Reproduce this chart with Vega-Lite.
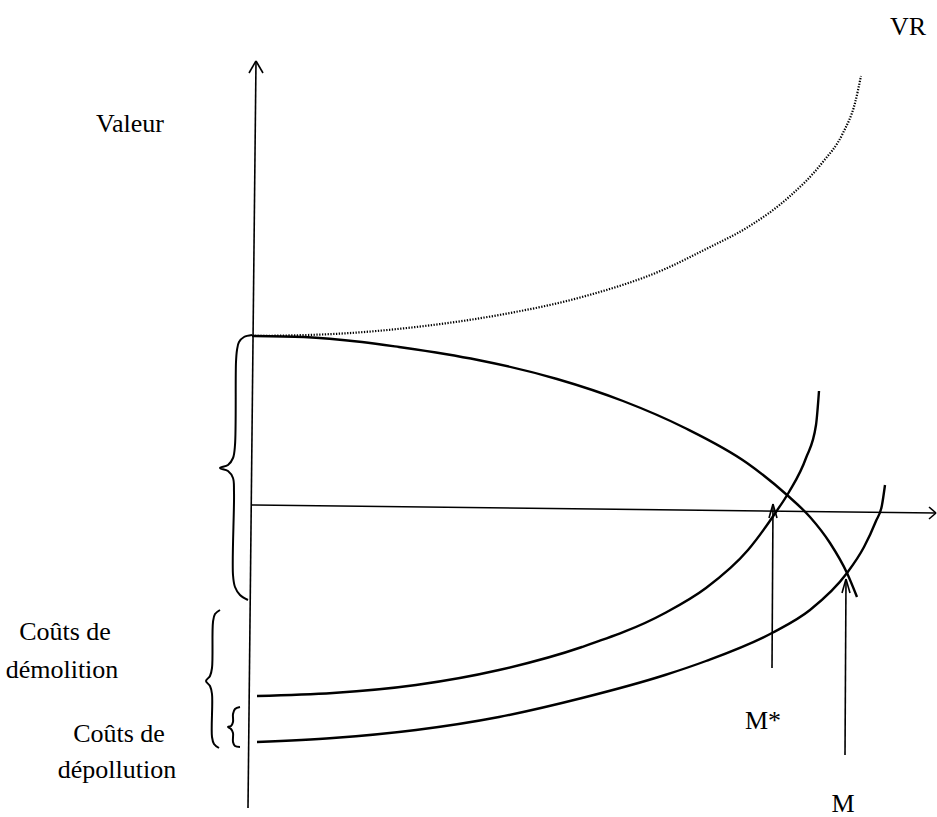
{
  "$schema": "https://vega.github.io/schema/vega-lite/v6.json",
  "width": 937,
  "height": 817,
  "autosize": {"type": "fit", "contains": "padding"},
  "padding": 0,
  "background": "white",
  "config": {"view": {"stroke": null}, "text": {"font": "'Liberation Serif', 'DejaVu Serif', serif"}},
  "datasets": {
    "curves": [
      {"series": "VR", "order": 0, "x": 252, "y": 336},
      {"series": "VR", "order": 1, "x": 333, "y": 334},
      {"series": "VR", "order": 2, "x": 416, "y": 327},
      {"series": "VR", "order": 3, "x": 499, "y": 315},
      {"series": "VR", "order": 4, "x": 582, "y": 297},
      {"series": "VR", "order": 5, "x": 665, "y": 269},
      {"series": "VR", "order": 6, "x": 706, "y": 249},
      {"series": "VR", "order": 7, "x": 748, "y": 227},
      {"series": "VR", "order": 8, "x": 789, "y": 197},
      {"series": "VR", "order": 9, "x": 822, "y": 163},
      {"series": "VR", "order": 10, "x": 843, "y": 133},
      {"series": "VR", "order": 11, "x": 855, "y": 103},
      {"series": "VR", "order": 12, "x": 861, "y": 76},

      {"series": "valeur", "order": 0, "x": 252, "y": 336},
      {"series": "valeur", "order": 1, "x": 304, "y": 337},
      {"series": "valeur", "order": 2, "x": 362, "y": 342},
      {"series": "valeur", "order": 3, "x": 399, "y": 347},
      {"series": "valeur", "order": 4, "x": 445, "y": 354},
      {"series": "valeur", "order": 5, "x": 478, "y": 360},
      {"series": "valeur", "order": 6, "x": 557, "y": 379},
      {"series": "valeur", "order": 7, "x": 623, "y": 401},
      {"series": "valeur", "order": 8, "x": 685, "y": 428},
      {"series": "valeur", "order": 9, "x": 747, "y": 463},
      {"series": "valeur", "order": 10, "x": 787, "y": 495},
      {"series": "valeur", "order": 11, "x": 810, "y": 517},
      {"series": "valeur", "order": 12, "x": 830, "y": 543},
      {"series": "valeur", "order": 13, "x": 847, "y": 573},
      {"series": "valeur", "order": 14, "x": 857, "y": 597},

      {"series": "demolition", "order": 0, "x": 257, "y": 696},
      {"series": "demolition", "order": 1, "x": 333, "y": 693},
      {"series": "demolition", "order": 2, "x": 416, "y": 685},
      {"series": "demolition", "order": 3, "x": 499, "y": 670},
      {"series": "demolition", "order": 4, "x": 582, "y": 647},
      {"series": "demolition", "order": 5, "x": 665, "y": 613},
      {"series": "demolition", "order": 6, "x": 706, "y": 588},
      {"series": "demolition", "order": 7, "x": 748, "y": 550},
      {"series": "demolition", "order": 8, "x": 776, "y": 512},
      {"series": "demolition", "order": 9, "x": 789, "y": 492},
      {"series": "demolition", "order": 10, "x": 806, "y": 458},
      {"series": "demolition", "order": 11, "x": 816, "y": 425},
      {"series": "demolition", "order": 12, "x": 819, "y": 391},

      {"series": "depollution", "order": 0, "x": 257, "y": 742},
      {"series": "depollution", "order": 1, "x": 333, "y": 738},
      {"series": "depollution", "order": 2, "x": 416, "y": 730},
      {"series": "depollution", "order": 3, "x": 499, "y": 717},
      {"series": "depollution", "order": 4, "x": 582, "y": 698},
      {"series": "depollution", "order": 5, "x": 665, "y": 675},
      {"series": "depollution", "order": 6, "x": 706, "y": 661},
      {"series": "depollution", "order": 7, "x": 772, "y": 633},
      {"series": "depollution", "order": 8, "x": 810, "y": 610},
      {"series": "depollution", "order": 9, "x": 847, "y": 573},
      {"series": "depollution", "order": 10, "x": 864, "y": 547},
      {"series": "depollution", "order": 11, "x": 876, "y": 521},
      {"series": "depollution", "order": 12, "x": 882, "y": 505},
      {"series": "depollution", "order": 13, "x": 885, "y": 485},

      {"series": "brace1", "order": 0, "x": 252, "y": 335},
      {"series": "brace1", "order": 1, "x": 244, "y": 337},
      {"series": "brace1", "order": 2, "x": 239, "y": 342},
      {"series": "brace1", "order": 3, "x": 237, "y": 350},
      {"series": "brace1", "order": 4, "x": 236, "y": 362},
      {"series": "brace1", "order": 5, "x": 235, "y": 445},
      {"series": "brace1", "order": 6, "x": 233, "y": 458},
      {"series": "brace1", "order": 7, "x": 228, "y": 465},
      {"series": "brace1", "order": 8, "x": 220, "y": 468},
      {"series": "brace1", "order": 9, "x": 228, "y": 471},
      {"series": "brace1", "order": 10, "x": 233, "y": 478},
      {"series": "brace1", "order": 11, "x": 234, "y": 492},
      {"series": "brace1", "order": 12, "x": 233, "y": 575},
      {"series": "brace1", "order": 13, "x": 235, "y": 587},
      {"series": "brace1", "order": 14, "x": 240, "y": 595},
      {"series": "brace1", "order": 15, "x": 248, "y": 600},

      {"series": "brace2", "order": 0, "x": 220, "y": 610},
      {"series": "brace2", "order": 1, "x": 215, "y": 614},
      {"series": "brace2", "order": 2, "x": 213, "y": 622},
      {"series": "brace2", "order": 3, "x": 212, "y": 668},
      {"series": "brace2", "order": 4, "x": 210, "y": 676},
      {"series": "brace2", "order": 5, "x": 206, "y": 681},
      {"series": "brace2", "order": 6, "x": 210, "y": 686},
      {"series": "brace2", "order": 7, "x": 212, "y": 694},
      {"series": "brace2", "order": 8, "x": 212, "y": 737},
      {"series": "brace2", "order": 9, "x": 214, "y": 744},
      {"series": "brace2", "order": 10, "x": 219, "y": 748},

      {"series": "brace3", "order": 0, "x": 240, "y": 707},
      {"series": "brace3", "order": 1, "x": 235, "y": 709},
      {"series": "brace3", "order": 2, "x": 233, "y": 714},
      {"series": "brace3", "order": 3, "x": 233, "y": 722},
      {"series": "brace3", "order": 4, "x": 231, "y": 726},
      {"series": "brace3", "order": 5, "x": 228, "y": 727},
      {"series": "brace3", "order": 6, "x": 231, "y": 729},
      {"series": "brace3", "order": 7, "x": 233, "y": 733},
      {"series": "brace3", "order": 8, "x": 233, "y": 742},
      {"series": "brace3", "order": 9, "x": 235, "y": 746},
      {"series": "brace3", "order": 10, "x": 240, "y": 747}
    ],
    "segments": [
      {"part": "axe vertical", "x": 256, "y": 61, "x2": 248, "y2": 808},
      {"part": "fleche v1", "x": 256, "y": 61, "x2": 249, "y2": 73},
      {"part": "fleche v2", "x": 256, "y": 61, "x2": 263, "y2": 73},
      {"part": "axe horizontal", "x": 251, "y": 505, "x2": 936, "y2": 513},
      {"part": "fleche h1", "x": 936, "y": 513, "x2": 929, "y2": 507},
      {"part": "fleche h2", "x": 936, "y": 513, "x2": 929, "y2": 519},
      {"part": "M* tige", "x": 772, "y": 668, "x2": 773, "y2": 505},
      {"part": "M* f1", "x": 773, "y": 504, "x2": 769, "y2": 518},
      {"part": "M* f2", "x": 773, "y": 504, "x2": 777, "y2": 518},
      {"part": "M tige", "x": 845, "y": 755, "x2": 846, "y2": 580},
      {"part": "M f1", "x": 846, "y": 579, "x2": 842, "y2": 593},
      {"part": "M f2", "x": 846, "y": 579, "x2": 850, "y2": 593}
    ],
    "labels": [
      {"text": "Valeur", "x": 130, "y": 132},
      {"text": "VR", "x": 908, "y": 35},
      {"text": "Coûts de", "x": 65, "y": 640},
      {"text": "démolition", "x": 62, "y": 678},
      {"text": "Coûts de", "x": 119, "y": 742},
      {"text": "dépollution", "x": 117, "y": 778},
      {"text": "M*", "x": 763, "y": 729},
      {"text": "M", "x": 843, "y": 812}
    ]
  },
  "layer": [
    {
      "data": {"name": "curves"},
      "transform": [{"filter": "datum.series === 'valeur' || datum.series === 'demolition' || datum.series === 'depollution'"}],
      "mark": {"type": "line", "color": "black", "strokeWidth": 2.4, "interpolate": "monotone"},
      "encoding": {
        "x": {"field": "x", "type": "quantitative", "scale": {"domain": [0, 937], "nice": false, "zero": false}, "axis": null},
        "y": {"field": "y", "type": "quantitative", "scale": {"domain": [0, 817], "nice": false, "zero": false, "reverse": true}, "axis": null},
        "detail": {"field": "series"},
        "order": {"field": "order", "type": "quantitative"}
      }
    },
    {
      "data": {"name": "curves"},
      "transform": [{"filter": "indexof(datum.series, 'brace') === 0"}],
      "mark": {"type": "line", "color": "black", "strokeWidth": 2, "interpolate": "catmull-rom"},
      "encoding": {
        "x": {"field": "x", "type": "quantitative"},
        "y": {"field": "y", "type": "quantitative"},
        "detail": {"field": "series"},
        "order": {"field": "order", "type": "quantitative"}
      }
    },
    {
      "data": {"name": "curves"},
      "transform": [{"filter": "datum.series === 'VR'"}],
      "mark": {"type": "line", "color": "black", "strokeWidth": 2.2, "strokeDash": [1.3, 1.5], "interpolate": "monotone"},
      "encoding": {
        "x": {"field": "x", "type": "quantitative"},
        "y": {"field": "y", "type": "quantitative"},
        "detail": {"field": "series"},
        "order": {"field": "order", "type": "quantitative"}
      }
    },
    {
      "data": {"name": "segments"},
      "mark": {"type": "rule", "color": "black", "strokeWidth": 1.6},
      "encoding": {
        "x": {"field": "x", "type": "quantitative"},
        "y": {"field": "y", "type": "quantitative"},
        "x2": {"field": "x2"},
        "y2": {"field": "y2"}
      }
    },
    {
      "data": {"name": "labels"},
      "mark": {"type": "text", "font": "'Liberation Serif', 'DejaVu Serif', serif", "fontSize": 26, "color": "black", "align": "center", "baseline": "alphabetic"},
      "encoding": {
        "x": {"field": "x", "type": "quantitative"},
        "y": {"field": "y", "type": "quantitative"},
        "text": {"field": "text"}
      }
    }
  ]
}
